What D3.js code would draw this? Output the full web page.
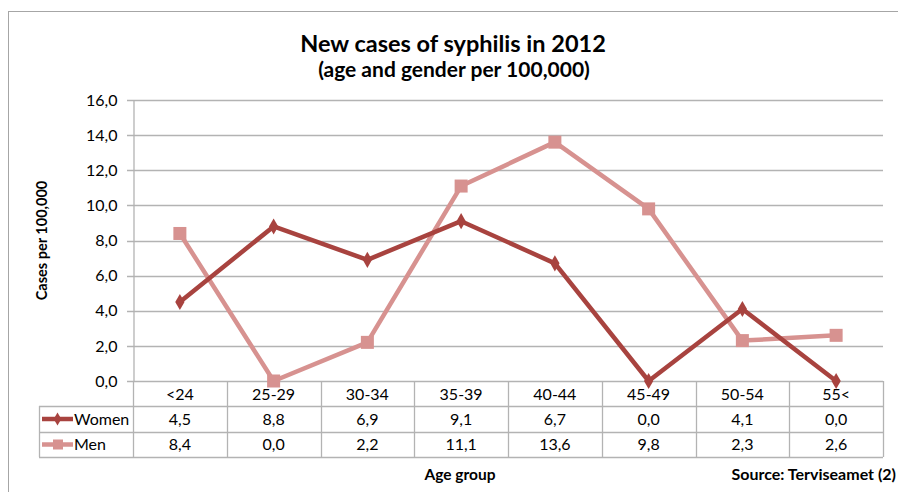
<!DOCTYPE html>
<html><head><meta charset="utf-8">
<script src="https://cdn.jsdelivr.net/npm/d3@7"></script>
<style>html,body{margin:0;padding:0;background:#fff;} svg{display:block;}</style>
</head><body>
<script>
const categories = ["<24","25-29","30-34","35-39","40-44","45-49","50-54","55<"];
const women = [4.5,8.8,6.9,9.1,6.7,0.0,4.1,0.0];
const men = [8.4,0.0,2.2,11.1,13.6,9.8,2.3,2.6];
const yTicks = [0,2,4,6,8,10,12,14,16];
const seriesNames = ["Women","Men"];

(function(){
const W = 898, H = 492;
const font = "Lato, 'Open Sans', sans-serif";
const fs = 16;
const svg = d3.select("body").append("svg").attr("width", W).attr("height", H);

svg.append("rect").attr("x", 8.5).attr("y", 11.5).attr("width", 1000).attr("height", 1000)
  .attr("fill", "none").attr("stroke", "#a6a6a6").attr("stroke-width", 1);

const pL = 133, pR = 883, pT = 100, pB = 381;
const x = d3.scaleBand().domain(categories).range([pL, pR]);
const y = d3.scaleLinear().domain([0, 16]).range([pB, pT]);
const fmt = v => d3.format(".1f")(v).replace(".", ",");
const grid = "#b3b3b3";

svg.append("text").attr("x", 453).attr("y", 52).attr("text-anchor", "middle")
  .attr("font-family", font).attr("font-weight", "bold").attr("font-size", 23.5)
  .attr("fill", "#000").text("New cases of syphilis in 2012");
svg.append("text").attr("x", 454).attr("y", 77).attr("text-anchor", "middle")
  .attr("font-family", font).attr("font-weight", "bold").attr("font-size", 21)
  .attr("fill", "#000").text("(age and gender per 100,000)");

svg.append("g").selectAll("line").data(yTicks).join("line")
  .attr("x1", pL - 6).attr("x2", pR)
  .attr("y1", d => Math.round(y(d)) + 0.5).attr("y2", d => Math.round(y(d)) + 0.5)
  .attr("stroke", grid).attr("stroke-width", 1.3);

const yAxis = d3.axisLeft(y).tickValues(yTicks).tickFormat(fmt).tickSize(0).tickPadding(16);
const ga = svg.append("g").attr("transform", `translate(${pL + 0.5},0)`).call(yAxis);
ga.select(".domain").attr("stroke", grid).attr("stroke-width", 1.3);
ga.selectAll("text").attr("font-family", font).attr("font-size", fs).attr("fill", "#000");

svg.append("text").attr("transform", `translate(47,${(pT + pB) / 2}) rotate(-90)`)
  .attr("text-anchor", "middle").attr("font-family", font).attr("font-weight", "bold")
  .attr("font-size", 14.5).attr("fill", "#000").text("Cases per 100,000");

const rowH = [381, 406, 432, 457];
const tleft = 39;
const tg = svg.append("g");
[1, 2, 3].forEach(k => {
  tg.append("line").attr("x1", tleft).attr("x2", pR).attr("y1", rowH[k] + 0.5).attr("y2", rowH[k] + 0.5)
    .attr("stroke", grid).attr("stroke-width", 1.3);
});
tg.append("line").attr("x1", tleft + 0.5).attr("x2", tleft + 0.5).attr("y1", rowH[1]).attr("y2", rowH[3])
  .attr("stroke", grid).attr("stroke-width", 1.3);
const vx = categories.map(c => x(c)).concat([pR]);
tg.selectAll("line.v").data(vx).join("line").attr("class", "v")
  .attr("x1", d => Math.round(d) + 0.5).attr("x2", d => Math.round(d) + 0.5)
  .attr("y1", rowH[0]).attr("y2", rowH[3]).attr("stroke", grid).attr("stroke-width", 1.3);

tg.selectAll("text.h").data(categories).join("text").attr("class", "h")
  .attr("x", d => x(d) + x.bandwidth() / 2).attr("y", 399.5).attr("text-anchor", "middle")
  .attr("font-family", font).attr("font-size", fs).attr("fill", "#000").text(d => d);

const colors = {Women: "#a8433f", Men: "#d79290"};
const rowsData = [women, men];
rowsData.forEach((vals, i) => {
  const cy = (rowH[i + 1] + rowH[i + 2]) / 2;
  tg.selectAll(null).data(vals).join("text")
    .attr("x", (d, j) => x(categories[j]) + x.bandwidth() / 2).attr("y", cy + 5.5)
    .attr("text-anchor", "middle").attr("font-family", font).attr("font-size", fs)
    .attr("fill", "#000").text(d => fmt(d));
  const name = seriesNames[i];
  tg.append("line").attr("x1", 42).attr("x2", 73).attr("y1", cy).attr("y2", cy)
    .attr("stroke", colors[name]).attr("stroke-width", 4.5);
  if (name === "Women") {
    tg.append("path").attr("d", d3.symbol(d3.symbolDiamond, 50)()).attr("transform", `translate(57.5,${cy})`).attr("fill", colors[name]);
  } else {
    tg.append("rect").attr("x", 53).attr("y", cy - 5).attr("width", 10).attr("height", 10).attr("fill", colors[name]);
  }
  tg.append("text").attr("x", 74).attr("y", cy + 5.5).attr("font-family", font).attr("font-size", fs)
    .attr("fill", "#000").text(name);
});

const cx = c => x(c) + x.bandwidth() / 2;
const line = d3.line().x((d, j) => cx(categories[j])).y(d => y(d));
svg.append("path").datum(men).attr("d", line).attr("fill", "none")
  .attr("stroke", colors.Men).attr("stroke-width", 4.5).attr("stroke-linejoin", "round");
svg.selectAll("rect.m").data(men).join("rect").attr("class", "m")
  .attr("x", (d, j) => cx(categories[j]) - 6.5).attr("y", d => y(d) - 6.5)
  .attr("width", 13).attr("height", 13).attr("fill", colors.Men);

svg.append("path").datum(women).attr("d", line).attr("fill", "none")
  .attr("stroke", colors.Women).attr("stroke-width", 4.5).attr("stroke-linejoin", "round");
svg.selectAll("path.w").data(women).join("path").attr("class", "w")
  .attr("d", d3.symbol(d3.symbolDiamond, 75)())
  .attr("transform", (d, j) => `translate(${cx(categories[j])},${y(d)})`)
  .attr("fill", colors.Women);

svg.append("text").attr("x", 460).attr("y", 480).attr("text-anchor", "middle")
  .attr("font-family", font).attr("font-weight", "bold").attr("font-size", 15.5)
  .attr("fill", "#000").text("Age group");
svg.append("text").attr("x", 896).attr("y", 480).attr("text-anchor", "end")
  .attr("font-family", font).attr("font-weight", "bold").attr("font-size", 16)
  .attr("fill", "#000").text("Source: Terviseamet (2)");
})();
</script>
</body></html>
